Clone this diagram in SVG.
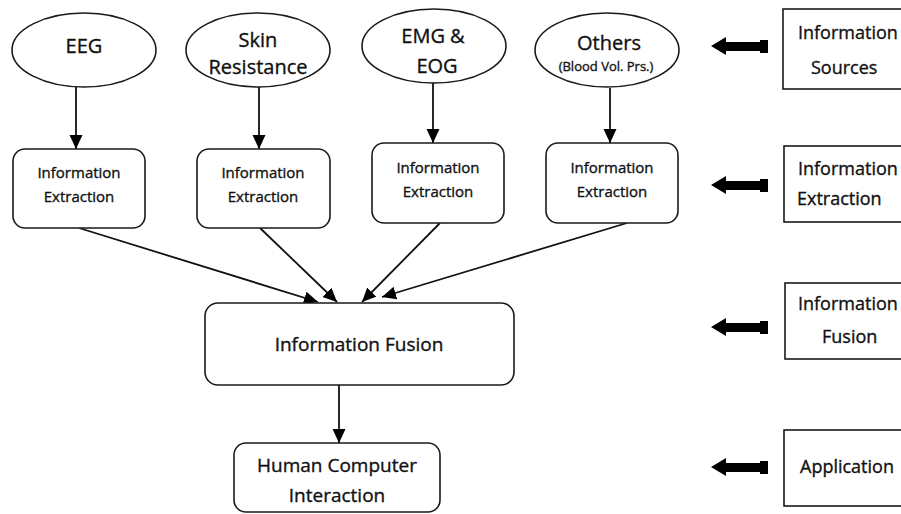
<svg xmlns="http://www.w3.org/2000/svg" width="901" height="514" viewBox="0 0 901 514">
<defs>
<style>
.sh{fill:#fff;stroke:#1a1a1a;stroke-width:1.6}
.t{font-family:"Open Sans","Liberation Sans",sans-serif;fill:#111;stroke:#111;stroke-width:0.35;text-anchor:middle}
.ts{font-family:"Open Sans","Liberation Sans",sans-serif;fill:#111;stroke:#111;stroke-width:0.35}
.c{stroke:#111;stroke-width:1.8;fill:none;marker-end:url(#ah)}
.blk{fill:#000}
</style>
<marker id="ah" markerUnits="userSpaceOnUse" markerWidth="14" markerHeight="14" viewBox="0 0 14 14" refX="14" refY="7" orient="auto">
<path d="M0,0.5 L14,7 L0,13.5 Z" fill="#000"/>
</marker>
<path id="barrow" d="M0,0 L15,-9 L15,-4 L49,-4 L49,-6 L57,-6 L57,7 L49,7 L49,5 L15,5 L15,9 Z"/>
</defs>
<rect width="901" height="514" fill="#fff"/>

<g id="connectors">
<line class="c" x1="76" y1="87" x2="76" y2="149"/>
<line class="c" x1="259" y1="87" x2="259" y2="149"/>
<line class="c" x1="433" y1="83" x2="433" y2="143"/>
<line class="c" x1="610" y1="88" x2="610" y2="143"/>
<line class="c" x1="79" y1="228" x2="318" y2="302"/>
<line class="c" x1="260" y1="228" x2="337" y2="302"/>
<line class="c" x1="440" y1="223" x2="362" y2="302"/>
<line class="c" x1="627" y1="223" x2="382" y2="297"/>
<line class="c" x1="339" y1="385" x2="339" y2="443"/>
</g>

<g id="eeg"><ellipse class="sh" cx="84" cy="50" rx="72" ry="37"/><text class="t" x="84" y="53" font-size="20">EEG</text></g>
<g id="skin"><ellipse class="sh" cx="258" cy="50" rx="72" ry="37"/><text class="t" x="258" y="47" font-size="20">Skin</text><text class="t" x="258" y="74" font-size="20">Resistance</text></g>
<g id="emg"><ellipse class="sh" cx="434" cy="46" rx="72" ry="37"/><text class="t" x="433" y="43" font-size="20">EMG &amp;</text><text class="t" x="437" y="73" font-size="20">EOG</text></g>
<g id="others"><ellipse class="sh" cx="607" cy="50" rx="72" ry="37"/><text class="t" x="609" y="50" font-size="20">Others</text><text class="t" x="606" y="71" font-size="13">(Blood Vol. Prs.)</text></g>

<g id="ext1"><rect class="sh" x="13" y="149" width="132" height="79" rx="12"/><text class="t" x="79" y="178" font-size="15">Information</text><text class="t" x="79" y="202" font-size="15">Extraction</text></g>
<g id="ext2"><rect class="sh" x="197" y="149" width="133" height="79" rx="12"/><text class="t" x="263" y="178" font-size="15">Information</text><text class="t" x="263" y="202" font-size="15">Extraction</text></g>
<g id="ext3"><rect class="sh" x="372" y="143" width="132" height="80" rx="12"/><text class="t" x="438" y="173" font-size="15">Information</text><text class="t" x="438" y="197" font-size="15">Extraction</text></g>
<g id="ext4"><rect class="sh" x="546" y="143" width="132" height="80" rx="12"/><text class="t" x="612" y="173" font-size="15">Information</text><text class="t" x="612" y="197" font-size="15">Extraction</text></g>

<g id="fusion"><rect class="sh" x="205" y="303" width="309" height="82" rx="13"/><text class="t" x="359" y="351" font-size="19">Information Fusion</text></g>
<g id="hci"><rect class="sh" x="234" y="443" width="206" height="69" rx="12"/><text class="t" x="337" y="472" font-size="19">Human Computer</text><text class="t" x="337" y="502" font-size="19">Interaction</text></g>

<g id="legend-sources"><rect class="sh" x="783" y="9" width="130" height="80"/><text class="ts" x="798" y="39" font-size="18">Information</text><text class="ts" x="811" y="74" font-size="18">Sources</text><use class="blk" href="#barrow" x="711" y="46"/></g>
<g id="legend-extraction"><rect class="sh" x="784" y="146" width="130" height="76"/><text class="ts" x="798" y="175" font-size="18">Information</text><text class="ts" x="797" y="205" font-size="18">Extraction</text><use class="blk" href="#barrow" x="711" y="185"/></g>
<g id="legend-fusion"><rect class="sh" x="785" y="283" width="130" height="76"/><text class="ts" x="798" y="310" font-size="18">Information</text><text class="ts" x="822" y="343" font-size="18">Fusion</text><use class="blk" href="#barrow" x="711" y="327"/></g>
<g id="legend-application"><rect class="sh" x="784" y="430" width="130" height="76"/><text class="ts" x="800" y="473" font-size="18">Application</text><use class="blk" href="#barrow" x="711" y="467"/></g>
</svg>
